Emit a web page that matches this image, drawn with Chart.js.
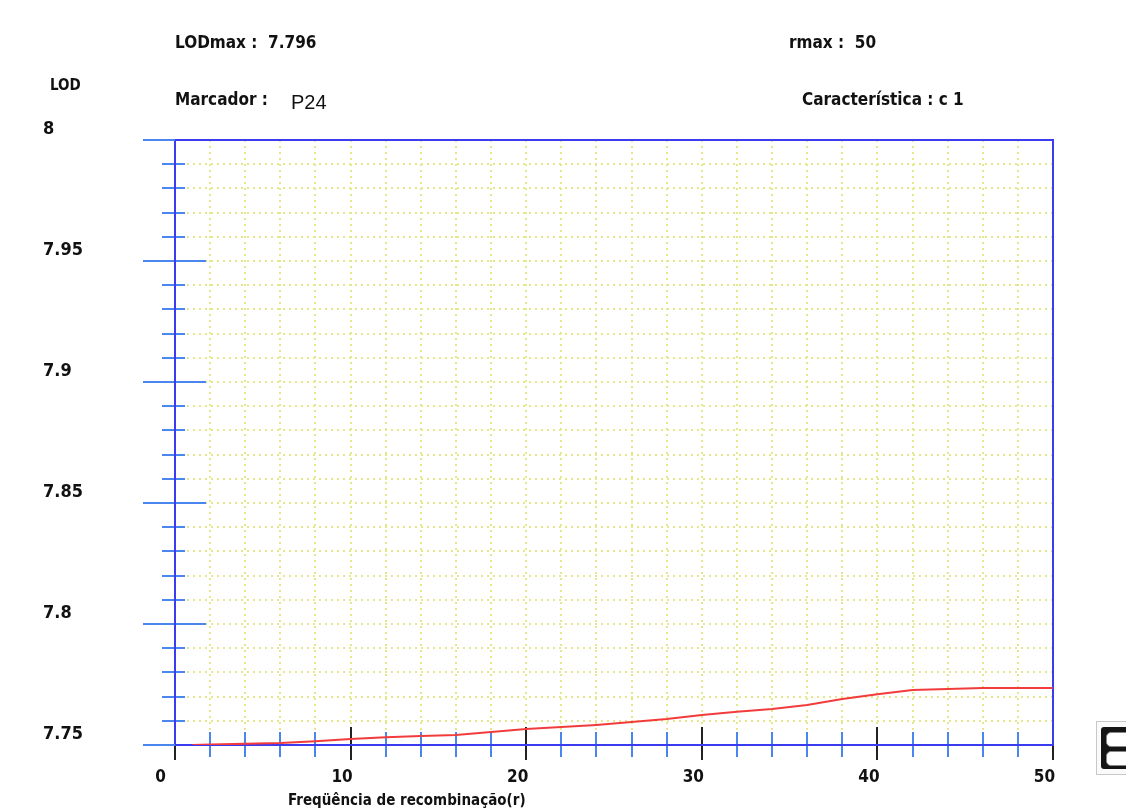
<!DOCTYPE html>
<html>
<head>
<meta charset="utf-8">
<script src="https://cdn.jsdelivr.net/npm/chart.js"></script>
<style>
  html, body { margin: 0; padding: 0; background: #fff; overflow: hidden; }
  #wrap { position: relative; width: 1126px; height: 812px; }
  .lbl { position: absolute; font-family: 'Liberation Sans Narrow', 'DejaVu Sans Condensed', Arial, sans-serif; font-weight: bold; font-size: 17px; line-height: 20px; color: #111; white-space: nowrap; }
  .small { font-size: 15px; }
  .val { font-family: 'Liberation Sans', Arial, sans-serif; font-weight: normal; font-size: 20px; line-height: 22px; }
  #icon { position: absolute; left: 1096px; top: 721px; width: 40px; height: 52px; border: 1px solid #c8c8c8; background: #fafafa; }
  #icon .b { position: absolute; left: 4px; top: 5px; width: 40px; height: 42px; background: #151515; border-radius: 3px; }
  #icon .h { position: absolute; left: 9px; width: 30px; height: 13px; background: #fff; border: 1px solid #888; border-radius: 5px; }
</style>
</head>
<body>
<div id="wrap">
  <canvas id="lodChart" width="1126" height="812"></canvas>
  <div class="lbl" style="left:175px; top:32px;">LODmax :&nbsp; 7.796</div>
  <div class="lbl" style="left:789px; top:32px;">rmax :&nbsp; 50</div>
  <div class="lbl small" style="left:50px; top:75px;">LOD</div>
  <div class="lbl" style="left:175px; top:89px;">Marcador :</div>
  <div class="lbl val" style="left:291px; top:91px;">P24</div>
  <div class="lbl" style="left:802px; top:89px;">Característica : c 1</div>
  <div class="lbl small" style="left:288px; top:790px;">Freqüência de recombinação(r)</div>
  <div id="icon"><div class="b"></div><div class="h" style="top:10px;"></div><div class="h" style="top:29px;"></div></div>
</div>
<script>
// recombination frequency (r) and LOD
const rValues = [1, 2, 4, 6, 8, 10, 12, 14, 16, 18, 20, 22, 24, 26, 28, 30, 32, 34, 36, 38, 40, 42, 44, 46, 48, 50];
const lodValues = [7.7500, 7.7502, 7.7505, 7.7508, 7.7516, 7.7525, 7.7532, 7.7537, 7.7541, 7.7554, 7.7566, 7.7574, 7.7583, 7.7595, 7.7607, 7.7624, 7.7637, 7.7649, 7.7665, 7.7690, 7.7710, 7.7727, 7.7731, 7.7736, 7.7736, 7.7736];

const xTickLabels = [0, 10, 20, 30, 40, 50];
const yTickLabels = [7.75, 7.8, 7.85, 7.9, 7.95, 8];
const xMin = 0, xMax = 50, xMinorStep = 2;
const yMin = 7.75, yMax = 8, yMinorStep = 0.01;

const FRAME = '#3b3bf2';
const AXIS_EXT = '#4a86ee';
const GRID = '#e6e68a';
const TXT = '#111';
const FAMILY = "'Liberation Sans Narrow', 'DejaVu Sans Condensed', Arial, sans-serif";

const axesPlugin = {
  id: 'oldAxes',
  beforeDatasetsDraw(chart) {
    const { ctx, chartArea: a, scales: { x, y } } = chart;
    ctx.save();

    // dotted yellow grid
    ctx.strokeStyle = GRID;
    ctx.lineWidth = 2;
    ctx.setLineDash([2, 4]);
    for (let v = xMin + xMinorStep; v < xMax; v += xMinorStep) {
      const px = Math.round(x.getPixelForValue(v));
      ctx.beginPath(); ctx.moveTo(px, a.top); ctx.lineTo(px, a.bottom); ctx.stroke();
    }
    const nY = Math.round((yMax - yMin) / yMinorStep);
    for (let i = 1; i < nY; i++) {
      const py = Math.round(y.getPixelForValue(yMin + i * yMinorStep));
      ctx.beginPath(); ctx.moveTo(a.left, py); ctx.lineTo(a.right, py); ctx.stroke();
    }
    ctx.setLineDash([]);

    // y ticks on the left side
    ctx.strokeStyle = AXIS_EXT;
    ctx.lineWidth = 2;
    for (let i = 0; i <= nY; i++) {
      const py = Math.round(y.getPixelForValue(yMin + i * yMinorStep));
      ctx.beginPath();
      if (i % 5 === 0) { ctx.moveTo(a.left - 32, py); ctx.lineTo(i > 0 && i < nY ? a.left + 31 : a.left, py); }
      else { ctx.moveTo(a.left - 13, py); ctx.lineTo(a.left + 10, py); }
      ctx.stroke();
    }

    // x ticks along the bottom
    for (let v = xMin + xMinorStep; v < xMax; v += xMinorStep) {
      if (v % 10 === 0) continue;
      const px = Math.round(x.getPixelForValue(v));
      ctx.beginPath(); ctx.moveTo(px, a.bottom - 13); ctx.lineTo(px, a.bottom + 12); ctx.stroke();
    }
    ctx.strokeStyle = '#222';
    xTickLabels.forEach(v => {
      const px = Math.round(x.getPixelForValue(v));
      ctx.beginPath();
      ctx.moveTo(px, v === xMin || v === xMax ? a.bottom : a.bottom - 18);
      ctx.lineTo(px, a.bottom + 15);
      ctx.stroke();
    });

    // frame
    ctx.strokeStyle = FRAME;
    ctx.lineWidth = 2;
    ctx.strokeRect(a.left, a.top, a.right - a.left, a.bottom - a.top);
    ctx.strokeStyle = AXIS_EXT;
    ctx.beginPath();
    ctx.moveTo(a.left - 32, a.top); ctx.lineTo(a.left, a.top);
    ctx.moveTo(a.left - 32, a.bottom); ctx.lineTo(a.left, a.bottom);
    ctx.stroke();

    // labels
    ctx.fillStyle = TXT;
    ctx.textBaseline = 'middle';
    ctx.textAlign = 'left';
    ctx.font = 'bold 18px ' + FAMILY;
    yTickLabels.forEach(v => {
      ctx.fillText(String(v), 43, y.getPixelForValue(v) - 11);
    });
    ctx.textAlign = 'center';
    ctx.font = 'bold 17px ' + FAMILY;
    xTickLabels.forEach(v => {
      const px = x.getPixelForValue(v);
      const off = v === xMin ? -14.5 : -8.5;
      ctx.fillText(String(v), px + off, a.bottom + 33);
    });
    ctx.restore();
  }
};

new Chart(document.getElementById('lodChart').getContext('2d'), {
  type: 'line',
  data: {
    datasets: [{
      data: rValues.map((r, i) => ({ x: r, y: lodValues[i] })),
      borderColor: '#f23c3c',
      borderWidth: 2,
      pointRadius: 0,
      tension: 0,
      fill: false
    }]
  },
  options: {
    responsive: false,
    animation: false,
    layout: { padding: { left: 175, right: 73, top: 140, bottom: 67 } },
    plugins: { legend: { display: false }, tooltip: { enabled: false } },
    scales: {
      x: { type: 'linear', min: xMin, max: xMax, display: false },
      y: { type: 'linear', min: yMin, max: yMax, display: false }
    }
  },
  plugins: [axesPlugin]
});
</script>
</body>
</html>
